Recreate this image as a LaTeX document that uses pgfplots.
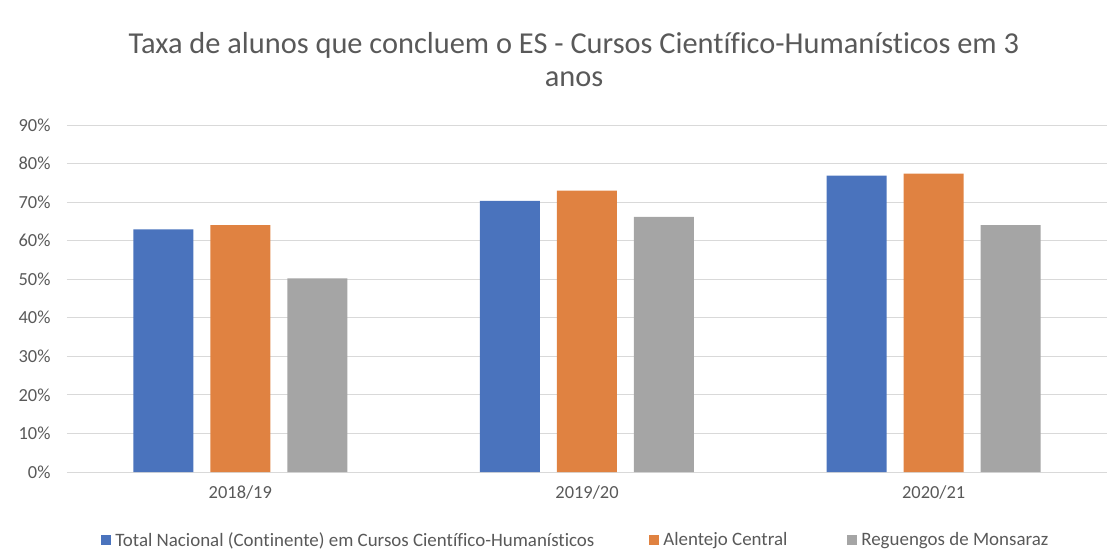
\documentclass[border=0pt]{standalone}
\usepackage{pgfplots}
\pgfplotsset{compat=1.18}
\usepackage{fontspec}
\setmainfont{Carlito}[Ligatures=NoCommon]
\definecolor{cblue}{HTML}{4A73BD}
\definecolor{corange}{HTML}{E08241}
\definecolor{cgray}{HTML}{A5A5A5}
\definecolor{cgrid}{HTML}{D9D9D9}
\definecolor{ctext}{HTML}{595959}
\begin{document}
\begin{tikzpicture}
\useasboundingbox (-67bp,-88bp) rectangle (1051bp,472bp);
\begin{axis}[
  at={(0,0)}, anchor=south west,
  scale only axis, width=1040bp, height=347bp,
  ybar=17bp, bar width=60bp,
  xmin=-0.5, xmax=2.5, ymin=0, ymax=90,
  xtick={0,1,2}, xticklabels={2018/19,2019/20,2020/21},
  ytick={0,10,...,90},
  yticklabel={\pgfmathprintnumber{\tick}\%},
  /pgf/number format/assume math mode=true,
  ymajorgrids, grid style={cgrid, line width=1bp},
  axis line style={draw=none},
  major tick length=0pt,
  tick label style={font=\fontsize{18.5}{22}\selectfont, text=ctext},
  yticklabel style={xshift=-13bp},
  xticklabel style={yshift=-10bp},
  legend columns=3,
  legend style={at={(0.03,-0.196)}, anchor=west, draw=none, fill=none,
    font=\fontsize{19}{22}\selectfont, text=ctext,
    /tikz/every odd column/.append style={column sep=2bp}},
  legend cell align=left,
  legend image code/.code={\fill[#1] (0bp,-5bp) rectangle (10bp,5bp);},
]
\addplot[fill=cblue, draw=none] coordinates {(0,62.9) (1,70.3) (2,76.9)};
\addplot[fill=corange, draw=none] coordinates {(0,64.0) (1,73.0) (2,77.4)};
\addplot[fill=cgray, draw=none] coordinates {(0,50.2) (1,66.2) (2,64.0)};
\legend{\makebox[532bp][l]{Total Nacional (Continente) em Cursos Científico-Humanísticos},
        \makebox[182bp][l]{Alentejo Central},
        Reguengos de Monsaraz}
\end{axis}
\node[font=\fontsize{30.5}{33}\selectfont, text=ctext, align=center] at (507bp,412bp)
  {Taxa de alunos que concluem o ES - Cursos Científico-Humanísticos em 3\\anos};
\end{tikzpicture}
\end{document}
